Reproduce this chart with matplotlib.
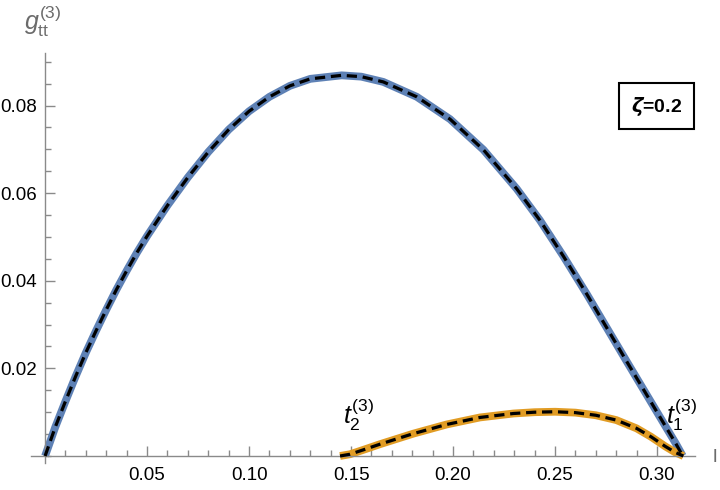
import matplotlib
matplotlib.use("Agg")
from matplotlib import pyplot as plt
from matplotlib.ticker import MultipleLocator, FixedLocator

plt.rcParams['mathtext.fontset'] = 'custom'
plt.rcParams['mathtext.rm'] = 'Liberation Sans'
plt.rcParams['mathtext.it'] = 'Liberation Sans:italic'
plt.rcParams['mathtext.bf'] = 'Liberation Sans:bold'
plt.rcParams['font.family'] = ['Liberation Sans', 'DejaVu Sans']

# values
l_t1 = [0.0, 0.005, 0.010, 0.015, 0.020, 0.025, 0.030, 0.035, 0.040, 0.045,
        0.050, 0.060, 0.070, 0.080, 0.090, 0.100, 0.110, 0.120, 0.130, 0.1454,
        0.1550, 0.1658, 0.1822, 0.1985, 0.2149, 0.2312, 0.2426, 0.2541, 0.2655,
        0.2753, 0.2851, 0.2950, 0.3000, 0.3050, 0.3090, 0.3126]
g_t1 = [0.0, 0.0066, 0.0125, 0.0182, 0.0236, 0.0286, 0.0334, 0.0380, 0.0423,
        0.0464, 0.0502, 0.0572, 0.0636, 0.0694, 0.0745, 0.0787, 0.0820, 0.0845,
        0.0861, 0.0869, 0.0866, 0.0854, 0.0820, 0.0769, 0.0699, 0.0610, 0.0538,
        0.0456, 0.0370, 0.0293, 0.0216, 0.0139, 0.0100, 0.0061, 0.0030, 0.0]

l_t2 = [0.1446, 0.1495, 0.1560, 0.1642, 0.1805, 0.1969, 0.2132, 0.2296, 0.2400,
        0.2500, 0.2600, 0.2700, 0.2800, 0.2900, 0.2970, 0.3040, 0.3090, 0.3129]
g_t2 = [0.0, 0.0004, 0.0014, 0.0027, 0.0051, 0.0072, 0.0088, 0.0097, 0.0100,
        0.0101, 0.0099, 0.0093, 0.0082, 0.0063, 0.0044, 0.0022, 0.0008, 0.0]

x_major = [0.05, 0.10, 0.15, 0.20, 0.25, 0.30]
y_major = [0.02, 0.04, 0.06, 0.08]

blue = '#5E81B5'
orange = '#E19C24'
axis_gray = '#8a8a8a'
label_gray = '#6b6b6b'

fig = plt.figure(figsize=(7.2, 4.9), dpi=100)
ax = fig.add_axes([31/720, 27/490, 664/720, 410/490])

ax.plot(l_t1, g_t1, color=blue, lw=5.6, solid_capstyle='butt', zorder=2)
ax.plot(l_t2, g_t2, color=orange, lw=5.6, solid_capstyle='butt', zorder=2)
ax.plot(l_t1, g_t1, color='black', lw=2.3, dashes=(3.2, 1.8), zorder=3)
ax.plot(l_t2, g_t2, color='black', lw=2.3, dashes=(3.2, 1.8), zorder=3)

ax.set_xlim(-0.0069, 0.3186)
ax.set_ylim(-0.0016, 0.0920)

for s in ['top', 'right']:
    ax.spines[s].set_visible(False)
for s in ['left', 'bottom']:
    ax.spines[s].set_position(('data', 0))
    ax.spines[s].set_color(axis_gray)
    ax.spines[s].set_linewidth(1.0)

ax.xaxis.set_major_locator(FixedLocator(x_major))
ax.yaxis.set_major_locator(FixedLocator(y_major))
ax.xaxis.set_minor_locator(MultipleLocator(0.01))
ax.yaxis.set_minor_locator(MultipleLocator(0.005))
ax.set_xticklabels(['%.2f' % v for v in x_major])
ax.set_yticklabels(['%.2f' % v for v in y_major])

ax.tick_params(which='both', direction='in', color=axis_gray, width=1.0,
               labelsize=13.5, labelcolor='black')
ax.tick_params(which='major', length=7)
ax.tick_params(which='minor', length=4)
ax.tick_params(axis='x', pad=8)
ax.tick_params(axis='y', pad=6)

fig.text(43/720, 1 - 21/490, r'$g_{\mathrm{tt}}^{(3)}$', color=label_gray,
         fontsize=18, ha='center', va='center')
fig.text(715/720, 1 - 457/490, 'l', color=label_gray, fontsize=14,
         ha='center', va='center')

ax.text(0.1534, 0.0052, r'$t_2^{(3)}$', fontsize=18, ha='center', va='bottom')
ax.text(0.3118, 0.0052, r'$t_1^{(3)}$', fontsize=18, ha='center', va='bottom')

ax.text(0.2998, 0.0799, r'$\boldsymbol{\zeta}$=0.2', fontsize=14, fontweight='bold',
        ha='center', va='center',
        bbox=dict(boxstyle='square,pad=0.6', fc='white', ec='black', lw=1.5))

fig.savefig('out.png', dpi=100)
